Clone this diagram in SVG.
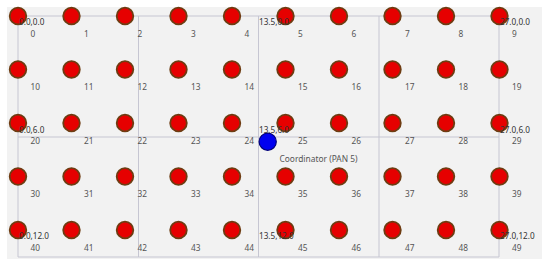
<svg xmlns="http://www.w3.org/2000/svg" width="550" height="266" viewBox="0 0 550 266">
<style>
.bg{fill:#f2f2f2}
.grid line{stroke:#c6c6d2;stroke-width:1}
.n{fill:#e60000;stroke:#6e3c12;stroke-width:1.8}
.id{font-family:"Noto Sans",sans-serif;font-size:8.3px;fill:#555}
.co{font-family:"Noto Sans",sans-serif;font-size:8.2px;fill:#333}
.coord{fill:#0000f0;stroke:#00007a;stroke-width:1.2}
.lbl{font-family:"Noto Sans",sans-serif;font-size:8.4px;fill:#555}
</style>
<rect class="bg" x="7" y="7" width="535" height="252"/>
<g id="grid" class="grid">
<line x1="18" y1="16" x2="499" y2="16"/>
<line x1="18" y1="137" x2="499" y2="137"/>
<line x1="18" y1="257" x2="499" y2="257"/>
<line x1="18" y1="16" x2="18" y2="257"/>
<line x1="138.5" y1="16" x2="138.5" y2="257"/>
<line x1="258.5" y1="16" x2="258.5" y2="257"/>
<line x1="379" y1="16" x2="379" y2="257"/>
<line x1="499" y1="16" x2="499" y2="257"/>
</g>
<g id="connectors"></g>
<g id="node0"><circle class="n" cx="18" cy="16" r="8.3"/><text class="id" x="30.5" y="36.5">0</text></g>
<g id="node1"><circle class="n" cx="71.5" cy="16" r="8.3"/><text class="id" x="84" y="36.5">1</text></g>
<g id="node2"><circle class="n" cx="125" cy="16" r="8.3"/><text class="id" x="137.5" y="36.5">2</text></g>
<g id="node3"><circle class="n" cx="178.5" cy="16" r="8.3"/><text class="id" x="191" y="36.5">3</text></g>
<g id="node4"><circle class="n" cx="232" cy="16" r="8.3"/><text class="id" x="244.5" y="36.5">4</text></g>
<g id="node5"><circle class="n" cx="285.5" cy="16" r="8.3"/><text class="id" x="298" y="36.5">5</text></g>
<g id="node6"><circle class="n" cx="339" cy="16" r="8.3"/><text class="id" x="351.5" y="36.5">6</text></g>
<g id="node7"><circle class="n" cx="392.5" cy="16" r="8.3"/><text class="id" x="405" y="36.5">7</text></g>
<g id="node8"><circle class="n" cx="446" cy="16" r="8.3"/><text class="id" x="458.5" y="36.5">8</text></g>
<g id="node9"><circle class="n" cx="499.5" cy="16" r="8.3"/><text class="id" x="512" y="36.5">9</text></g>
<g id="node10"><circle class="n" cx="18" cy="69.5" r="8.3"/><text class="id" x="30.5" y="90">10</text></g>
<g id="node11"><circle class="n" cx="71.5" cy="69.5" r="8.3"/><text class="id" x="84" y="90">11</text></g>
<g id="node12"><circle class="n" cx="125" cy="69.5" r="8.3"/><text class="id" x="137.5" y="90">12</text></g>
<g id="node13"><circle class="n" cx="178.5" cy="69.5" r="8.3"/><text class="id" x="191" y="90">13</text></g>
<g id="node14"><circle class="n" cx="232" cy="69.5" r="8.3"/><text class="id" x="244.5" y="90">14</text></g>
<g id="node15"><circle class="n" cx="285.5" cy="69.5" r="8.3"/><text class="id" x="298" y="90">15</text></g>
<g id="node16"><circle class="n" cx="339" cy="69.5" r="8.3"/><text class="id" x="351.5" y="90">16</text></g>
<g id="node17"><circle class="n" cx="392.5" cy="69.5" r="8.3"/><text class="id" x="405" y="90">17</text></g>
<g id="node18"><circle class="n" cx="446" cy="69.5" r="8.3"/><text class="id" x="458.5" y="90">18</text></g>
<g id="node19"><circle class="n" cx="499.5" cy="69.5" r="8.3"/><text class="id" x="512" y="90">19</text></g>
<g id="node20"><circle class="n" cx="18" cy="123" r="8.3"/><text class="id" x="30.5" y="143.5">20</text></g>
<g id="node21"><circle class="n" cx="71.5" cy="123" r="8.3"/><text class="id" x="84" y="143.5">21</text></g>
<g id="node22"><circle class="n" cx="125" cy="123" r="8.3"/><text class="id" x="137.5" y="143.5">22</text></g>
<g id="node23"><circle class="n" cx="178.5" cy="123" r="8.3"/><text class="id" x="191" y="143.5">23</text></g>
<g id="node24"><circle class="n" cx="232" cy="123" r="8.3"/><text class="id" x="244.5" y="143.5">24</text></g>
<g id="node25"><circle class="n" cx="285.5" cy="123" r="8.3"/><text class="id" x="298" y="143.5">25</text></g>
<g id="node26"><circle class="n" cx="339" cy="123" r="8.3"/><text class="id" x="351.5" y="143.5">26</text></g>
<g id="node27"><circle class="n" cx="392.5" cy="123" r="8.3"/><text class="id" x="405" y="143.5">27</text></g>
<g id="node28"><circle class="n" cx="446" cy="123" r="8.3"/><text class="id" x="458.5" y="143.5">28</text></g>
<g id="node29"><circle class="n" cx="499.5" cy="123" r="8.3"/><text class="id" x="512" y="143.5">29</text></g>
<g id="node30"><circle class="n" cx="18" cy="176.5" r="8.3"/><text class="id" x="30.5" y="197">30</text></g>
<g id="node31"><circle class="n" cx="71.5" cy="176.5" r="8.3"/><text class="id" x="84" y="197">31</text></g>
<g id="node32"><circle class="n" cx="125" cy="176.5" r="8.3"/><text class="id" x="137.5" y="197">32</text></g>
<g id="node33"><circle class="n" cx="178.5" cy="176.5" r="8.3"/><text class="id" x="191" y="197">33</text></g>
<g id="node34"><circle class="n" cx="232" cy="176.5" r="8.3"/><text class="id" x="244.5" y="197">34</text></g>
<g id="node35"><circle class="n" cx="285.5" cy="176.5" r="8.3"/><text class="id" x="298" y="197">35</text></g>
<g id="node36"><circle class="n" cx="339" cy="176.5" r="8.3"/><text class="id" x="351.5" y="197">36</text></g>
<g id="node37"><circle class="n" cx="392.5" cy="176.5" r="8.3"/><text class="id" x="405" y="197">37</text></g>
<g id="node38"><circle class="n" cx="446" cy="176.5" r="8.3"/><text class="id" x="458.5" y="197">38</text></g>
<g id="node39"><circle class="n" cx="499.5" cy="176.5" r="8.3"/><text class="id" x="512" y="197">39</text></g>
<g id="node40"><circle class="n" cx="18" cy="230" r="8.3"/><text class="id" x="30.5" y="250.5">40</text></g>
<g id="node41"><circle class="n" cx="71.5" cy="230" r="8.3"/><text class="id" x="84" y="250.5">41</text></g>
<g id="node42"><circle class="n" cx="125" cy="230" r="8.3"/><text class="id" x="137.5" y="250.5">42</text></g>
<g id="node43"><circle class="n" cx="178.5" cy="230" r="8.3"/><text class="id" x="191" y="250.5">43</text></g>
<g id="node44"><circle class="n" cx="232" cy="230" r="8.3"/><text class="id" x="244.5" y="250.5">44</text></g>
<g id="node45"><circle class="n" cx="285.5" cy="230" r="8.3"/><text class="id" x="298" y="250.5">45</text></g>
<g id="node46"><circle class="n" cx="339" cy="230" r="8.3"/><text class="id" x="351.5" y="250.5">46</text></g>
<g id="node47"><circle class="n" cx="392.5" cy="230" r="8.3"/><text class="id" x="405" y="250.5">47</text></g>
<g id="node48"><circle class="n" cx="446" cy="230" r="8.3"/><text class="id" x="458.5" y="250.5">48</text></g>
<g id="node49"><circle class="n" cx="499.5" cy="230" r="8.3"/><text class="id" x="512" y="250.5">49</text></g>
<g id="coordinator"><circle class="coord" cx="267.7" cy="141.7" r="8.6"/><text class="lbl" x="279.5" y="162">Coordinator (PAN 5)</text></g>
<g id="coord-labels">
<text class="co" x="19" y="25">0.0,0.0</text>
<text class="co" x="259" y="25">13.5,0.0</text>
<text class="co" x="500" y="25">27.0,0.0</text>
<text class="co" x="19" y="133">0.0,6.0</text>
<text class="co" x="259" y="133">13.5,6.0</text>
<text class="co" x="500" y="133">27.0,6.0</text>
<text class="co" x="19" y="239">0.0,12.0</text>
<text class="co" x="259" y="239">13.5,12.0</text>
<text class="co" x="500" y="239">27.0,12.0</text>
</g>
</svg>
